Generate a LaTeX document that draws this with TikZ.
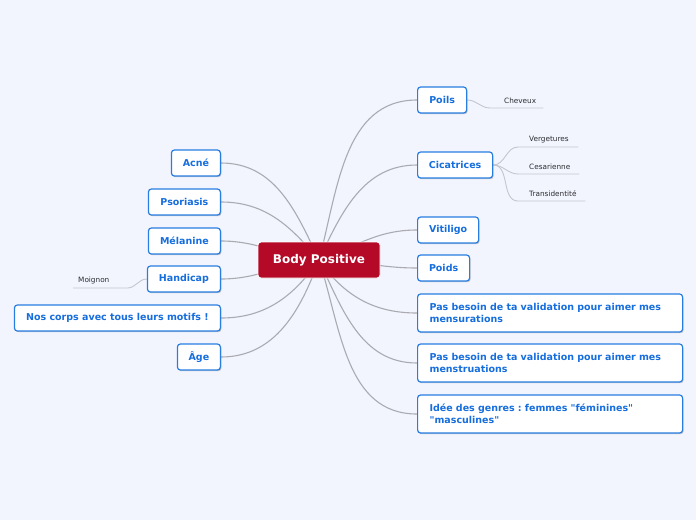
\documentclass[tikz,border=0pt]{standalone}
\usepackage{fontspec}
\setmainfont{DejaVu Sans}[Ligatures=TeXOff]
\usetikzlibrary{shadows}
\definecolor{bgc}{RGB}{242,245,254}
\definecolor{rootc}{RGB}{180,10,40}
\definecolor{bluet}{RGB}{22,110,222}
\definecolor{blueb}{RGB}{40,125,225}
\definecolor{connc}{RGB}{170,171,178}
\definecolor{subc}{RGB}{195,198,208}
\definecolor{subt}{RGB}{45,45,50}
\pgfdeclarelayer{bglayer}
\pgfdeclarelayer{edgelayer}
\pgfsetlayers{bglayer,edgelayer,main}
\frenchspacing
\hyphenpenalty=10000
\exhyphenpenalty=10000
\tikzset{
  topic/.style={draw=blueb, line width=1.2pt, fill=white, rounded corners=3pt,
    text=bluet, font=\fontsize{9.5}{12}\selectfont\bfseries, inner xsep=0pt, inner ysep=0pt,
    minimum height=26pt, align=center,
    drop shadow={shadow xshift=1pt, shadow yshift=-1.2pt, fill=black, opacity=0.2}},
  longtopic/.style={topic, minimum height=38pt, text width=241pt, align=left, inner xsep=12pt},
  rootbox/.style={fill=rootc, draw=white, line width=0.8pt, rounded corners=3pt, text=white,
    font=\fontsize{12}{14}\selectfont\bfseries, minimum width=122pt, minimum height=36pt,
    inner sep=0pt},
  conn/.style={draw=connc, line width=1.1pt},
  subconn/.style={draw=subc, line width=0.9pt},
  sub/.style={text=subt, font=\fontsize{7.3}{9}\selectfont, inner xsep=0pt, inner ysep=4pt,
    anchor=south west, align=left},
}
\begin{document}
\begin{tikzpicture}[x=1pt,y=-1pt]
\begin{pgfonlayer}{bglayer}
\fill[bgc] (0,0) rectangle (696,520);
\end{pgfonlayer}
\useasboundingbox (0,0) rectangle (696,520);

\node[rootbox] (root) at (319,260) {Body Positive};

% left
\node[topic, anchor=east, minimum width=49pt] (acne) at (221,163) {Acné};
\node[topic, anchor=east, minimum width=72pt] (psoriasis) at (221,202) {Psoriasis};
\node[topic, anchor=east, minimum width=72pt] (melanine) at (221,241) {Mélanine};
\node[topic, anchor=east, minimum width=73pt] (handicap) at (221,279) {Handicap};
\node[topic, anchor=east, minimum width=206pt] (corps) at (221,318) {Nos corps avec tous leurs motifs !};
\node[topic, anchor=east, minimum width=43pt] (age) at (221,357) {Âge};

% right
\node[topic, anchor=west, minimum width=49pt] (poils) at (417,100) {Poils};
\node[topic, anchor=west, minimum width=75pt] (cicatrices) at (417,165) {Cicatrices};
\node[topic, anchor=west, minimum width=61pt] (vitiligo) at (417,230) {Vitiligo};
\node[topic, anchor=west, minimum width=52pt] (poids) at (417,268) {Poids};
\node[longtopic, anchor=west] (mensur) at (417,313) {Pas besoin de ta validation pour aimer mes mensurations};
\node[longtopic, anchor=west] (menstr) at (417,363) {Pas besoin de ta validation pour aimer mes menstruations};
\node[longtopic, anchor=west] (genres) at (417,414) {Idée des genres : femmes "féminines" "masculines"};

% subtopics
\node[sub, text width=53pt] (cheveux) at (490,108) {\hspace*{14pt}Cheveux};
\node[sub, text width=60pt] (vergetures) at (518,147) {\hspace*{11pt}Vergetures};
\node[sub, text width=61pt] (cesarienne) at (518,174) {\hspace*{11pt}Cesarienne};
\node[sub, text width=67pt] (transid) at (518,201) {\hspace*{11pt}Transidentité};
\node[sub, text width=54pt] (moignon) at (73,288) {\hspace*{5pt}Moignon};

\begin{pgfonlayer}{edgelayer}
\draw[conn] (root.center) to[out=75,in=180] (poils.west);
\draw[conn] (root.center) to[out=65,in=180] (cicatrices.west);
\draw[conn] (root.center) to[out=20,in=180] (vitiligo.west);
\draw[conn] (root.center) to[out=0,in=180] (poids.west);
\draw[conn] (root.center) to[out=-55,in=180] (mensur.west);
\draw[conn] (root.center) to[out=-65,in=180] (menstr.west);
\draw[conn] (root.center) to[out=-72,in=180] (genres.west);
\draw[conn] (root.center) to[out=115,in=0] (acne.east);
\draw[conn] (root.center) to[out=130,in=0] (psoriasis.east);
\draw[conn] (root.center) to[out=175,in=0] (melanine.east);
\draw[conn] (root.center) to[out=185,in=0] (handicap.east);
\draw[conn] (root.center) to[out=235,in=0] (corps.east);
\draw[conn] (root.center) to[out=250,in=0] (age.east);
\draw[subconn] (poils.east) to[out=0,in=180] (cheveux.south west) -- (cheveux.south east);
\draw[subconn] (cicatrices.east) to[out=0,in=180] (vergetures.south west) -- (vergetures.south east);
\draw[subconn] (cicatrices.east) to[out=0,in=180] (cesarienne.south west) -- (cesarienne.south east);
\draw[subconn] (cicatrices.east) to[out=0,in=180] (transid.south west) -- (transid.south east);
\draw[subconn] (handicap.west) to[out=180,in=0] (moignon.south east) -- (moignon.south west);
\end{pgfonlayer}
\end{tikzpicture}
\end{document}
